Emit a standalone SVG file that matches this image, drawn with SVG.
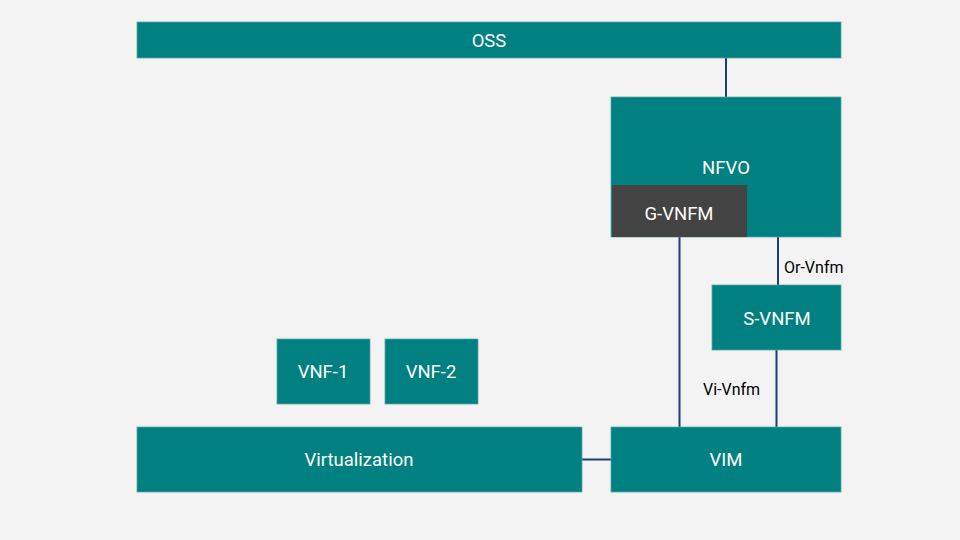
<svg xmlns="http://www.w3.org/2000/svg" width="960" height="540" viewBox="0 0 960 540">
<style>
.box{fill:#008080;stroke:#5aa6a6;stroke-width:0.8}
.dark{fill:#434343;stroke:none}
.t{font-family:Roboto,"Liberation Sans",sans-serif;font-size:18.5px;fill:#ffffff;text-anchor:middle;dominant-baseline:central}
.lbl{font-family:Roboto,"Liberation Sans",sans-serif;font-size:16px;fill:#000000;dominant-baseline:central}
.c{stroke:#1c3f6e;stroke-width:2;fill:none}
</style>
<rect width="960" height="540" fill="#f3f3f3"/>
<g id="connectors">
<line class="c" x1="726" y1="58" x2="726" y2="97"/>
<line class="c" x1="679.5" y1="237" x2="679.5" y2="427"/>
<line class="c" x1="778" y1="237" x2="778" y2="285"/>
<line class="c" x1="776.5" y1="350" x2="776.5" y2="427"/>
<line class="c" x1="582" y1="459.5" x2="611" y2="459.5"/>
<text class="lbl" x="784" y="267">Or-Vnfm</text>
<text class="lbl" x="703" y="389">Vi-Vnfm</text>
</g>
<g id="oss"><rect class="box" x="137" y="22" width="704" height="36"/><text class="t" x="489" y="41">OSS</text></g>
<g id="nfvo"><rect class="box" x="611" y="97" width="230" height="140"/><text class="t" x="726" y="168">NFVO</text></g>
<g id="gvnfm"><rect class="dark" x="612" y="185" width="135" height="52"/><text class="t" x="679" y="214">G-VNFM</text></g>
<g id="svnfm"><rect class="box" x="712" y="285" width="129" height="65"/><text class="t" x="777" y="319">S-VNFM</text></g>
<g id="vim"><rect class="box" x="611" y="427" width="230" height="65"/><text class="t" x="726" y="460">VIM</text></g>
<g id="virtualization"><rect class="box" x="137" y="427" width="445" height="65"/><text class="t" x="359" y="460">Virtualization</text></g>
<g id="vnf1"><rect class="box" x="277" y="339" width="93" height="65"/><text class="t" x="323" y="372">VNF-1</text></g>
<g id="vnf2"><rect class="box" x="385" y="339" width="93" height="65"/><text class="t" x="431" y="372">VNF-2</text></g>
</svg>
